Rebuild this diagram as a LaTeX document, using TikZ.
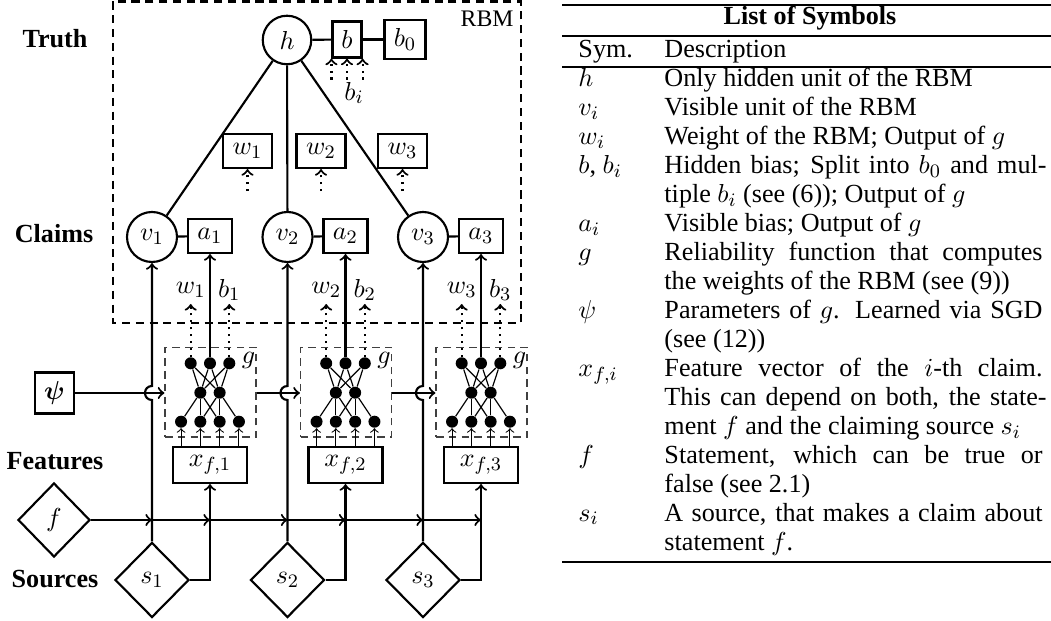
\documentclass[tikz,border=0pt]{standalone}
\usepackage{amsmath}
\usepackage{fontspec}
\setmainfont{Liberation Serif}
\usetikzlibrary{shapes.geometric,calc}
\newcommand\pu{0.4211pt}
\newcommand\jline[1]{\makebox[159.2pt][s]{#1}}
\newcommand\hyline[1]{\makebox[160.9pt][s]{#1}}
\begin{document}
\begin{tikzpicture}[x=\pu,y=-\pu, font=\fontsize{11}{13}\selectfont,
  every node/.style={inner sep=0pt},
  lw/.style={line width=0.9pt},
  circ/.style={circle,draw,lw},
  sq/.style={rectangle,draw,lw},
  dia/.style={diamond,draw,lw,aspect=1},
  conn/.style={lw},
  arr/.style={lw,->},
  dotarr/.style={lw,dotted,->},
  nnunit/.style={circle,fill,minimum size=12*\pu},
  nnedge/.style={line width=0.5pt},
  nnin/.style={line width=0.45pt,->},
  nnbox/.style={draw,line width=0.5pt,dash pattern=on 3.2pt off 2.2pt,black!75},
  rbmbox/.style={lw,dash pattern=on 3.4pt off 2.4pt},
  lab/.style={font=\fontsize{11}{13}\selectfont\bfseries},
  rowtxt/.style={anchor=base west},
]
\useasboundingbox (0,0) rectangle (1051,621);

% ---------- RBM frame ----------
\draw[rbmbox] (113,1.5) rectangle (521,323);
\node[anchor=base east,font=\fontsize{10}{12}\selectfont] (rbm) at (514,27) {RBM};

% ---------- row labels ----------
\node[lab,anchor=base] (truth) at (55,48) {Truth};
\node[lab,anchor=base] (claims) at (54,243) {Claims};
\node[lab,anchor=base] (features) at (55,470) {Features};
\node[lab,anchor=base] (sources) at (55,588) {Sources};

% ---------- hidden unit ----------
\node[circ,minimum size=48.5*\pu] (h) at (287,40) {$h$};
\node[sq,minimum width=29*\pu,minimum height=36*\pu] (b) at (347,39.5) {$b$};
\node[sq,minimum width=41*\pu,minimum height=39*\pu] (b0) at (405,39.5) {$b_0$};
\draw[conn] (h) -- (b);
\draw[conn] (b) -- (b0);
\foreach \a in {south west,south,south east}
  \draw[dotarr] ($(b.\a)+(0,21)$) -- (b.\a);
\node (bi) at (354,93) {$b_i$};

% ---------- visible units ----------
\foreach \i/\x in {1/152,2/287.5,3/423}{
  \node[circ,minimum size=50*\pu] (v\i) at (\x,237) {$v_\i$};
  \node[sq,minimum width=44*\pu,minimum height=34*\pu] (a\i) at (\x+58,236) {$a_\i$};
  \draw[conn] (h) -- (v\i);
  \draw[conn] (v\i) -- (a\i);
}
\foreach \i/\x in {1/247.5,2/321,3/402.5}{
  \node[sq,minimum width=49*\pu,minimum height=34*\pu] (w\i) at (\x,151) {$w_\i$};
  \draw[dotarr] ($(w\i.south)+(0,22)$) -- (w\i.south);
}

% ---------- psi ----------
\node[sq,minimum width=39*\pu,minimum height=41*\pu] (psi) at (54.5,393) {$\boldsymbol{\psi}$};

% ---------- reliability networks g ----------
\foreach \i/\c in {1/210,2/345.5,3/481}{
  \node[nnbox,minimum width=91*\pu,minimum height=89.5*\pu] (nn\i) at (\c+0.5,392.25) {};
  \node[sq,minimum width=74*\pu,minimum height=36*\pu] (x\i) at (\c,465) {$x_{f,\i}$};
  \node[nnunit] (t\i-1) at (\c-19.3,363.3) {};
  \node[nnunit] (t\i-2) at (\c,363.3) {};
  \node[nnunit] (t\i-3) at (\c+19.3,363.3) {};
  \node[nnunit] (m\i-1) at (\c-9.65,392.7) {};
  \node[nnunit] (m\i-2) at (\c+9.65,392.7) {};
  \node[nnunit] (u\i-1) at (\c-28.95,421.7) {};
  \node[nnunit] (u\i-2) at (\c-9.65,421.7) {};
  \node[nnunit] (u\i-3) at (\c+9.65,421.7) {};
  \node[nnunit] (u\i-4) at (\c+28.95,421.7) {};
  \foreach \j in {1,2,3}{
    \foreach \k in {1,2}{ \draw[nnedge] (t\i-\j) -- (m\i-\k); }
  }
  \foreach \j/\k in {1/1,2/1,2/2,3/1,3/2,4/2}{ \draw[nnedge] (u\i-\j) -- (m\i-\k); }
  \foreach \j in {1,2,3,4}{ \draw[nnin] (x\i.north -| u\i-\j) -- (u\i-\j.south); }
  \node[anchor=base] (g\i) at (\c+38.5,364) {$g$};
  % outputs of g
  \draw[arr] (t\i-2) -- (a\i.south);
  \coordinate (we\i) at (\c-19.3,304);
  \coordinate (be\i) at (\c+19.3,304);
  \draw[dotarr] (t\i-1) -- (we\i);
  \draw[dotarr] (t\i-3) -- (be\i);
  \node (wl\i) at (\c-19.3,290) {$w_\i$};
  \node (bl\i) at (\c+19.3,290) {$b_\i$};
}

% ---------- psi chain ----------
\draw[arr] (psi.east) -- (psi.east -| nn1.west);
\draw[arr] (nn1.east |- psi) -- (nn2.west |- psi);
\draw[arr] (nn2.east |- psi) -- (nn3.west |- psi);

% ---------- statement and sources ----------
\node[dia,minimum width=72*\pu,minimum height=74*\pu] (f) at (54,520) {$f$};
\foreach \i/\x in {1/152,2/287.5,3/423}{
  \node[dia,minimum width=74*\pu,minimum height=75*\pu] (s\i) at (\x,580) {$s_\i$};
  \coordinate (hb\i) at (\x,400);
  \coordinate (ht\i) at (\x,386);
  \draw[arr] (s\i.north) -- (hb\i) .. controls ($(hb\i)+(-9.33,0)$) and ($(ht\i)+(-9.33,0)$) .. (ht\i) -- (v\i.south);
  \draw[arr] (s\i.east) -| (x\i.south);
}
\draw[arr] (f.east) -- (v1 |- f);
\draw[arr] (v1 |- f) -- (x1 |- f);
\draw[arr] (x1 |- f) -- (v2 |- f);
\draw[arr] (v2 |- f) -- (x2 |- f);
\draw[arr] (x2 |- f) -- (v3 |- f);
\draw[arr] (v3 |- f) -- (x3 |- f);

% ---------- table ----------
\draw[line width=1.1pt] (562,5) -- (1051,5);
\node[anchor=base,font=\fontsize{11}{13}\selectfont\bfseries] (title) at (810,25) {List of Symbols};
\draw[line width=0.9pt] (562,36) -- (1051,36);
\node[rowtxt] (hsym) at (578,57.5) {Sym.};
\node[rowtxt] (hdesc) at (664,57.5) {Description};
\draw[line width=0.9pt] (562,67) -- (1051,67);

\node[rowtxt] (s01) at (578,87) {$h$};
\node[rowtxt] (d01) at (664,87) {Only hidden unit of the RBM};
\node[rowtxt] (s02) at (578,115.94) {$v_i$};
\node[rowtxt] (d02) at (664,115.94) {Visible unit of the RBM};
\node[rowtxt] (s03) at (578,144.88) {$w_i$};
\node[rowtxt] (d03) at (664,144.88) {Weight of the RBM; Output of $g$};
\node[rowtxt] (s04) at (578,173.82) {$b$, $b_i$};
\node[rowtxt] (d04) at (664,173.82) {\hyline{Hidden bias; Split into $b_0$ and mul-}};
\node[rowtxt] (d05) at (664,202.76) {tiple $b_i$ (see (6)); Output of $g$};
\node[rowtxt] (s06) at (578,231.7) {$a_i$};
\node[rowtxt] (d06) at (664,231.7) {Visible bias; Output of $g$};
\node[rowtxt] (s07) at (578,260.64) {$g$};
\node[rowtxt] (d07) at (664,260.64) {\jline{Reliability function that computes}};
\node[rowtxt] (d08) at (664,289.58) {the weights of the RBM (see (9))};
\node[rowtxt] (s09) at (578,318.52) {$\psi$};
\node[rowtxt] (d09) at (664,318.52) {\jline{Parameters of $g$. Learned via SGD}};
\node[rowtxt] (d10) at (664,347.46) {(see (12))};
\node[rowtxt] (s11) at (578,376.4) {$x_{f,i}$};
\node[rowtxt] (d11) at (664,376.4) {\jline{Feature vector of the $i$-th claim.}};
\node[rowtxt] (d12) at (664,405.34) {\hyline{This can depend on both, the state-}};
\node[rowtxt] (d13) at (664,434.28) {ment $f$ and the claiming source $s_i$};
\node[rowtxt] (s14) at (578,463.22) {$f$};
\node[rowtxt] (d14) at (664,463.22) {\jline{Statement, which can be true or}};
\node[rowtxt] (d15) at (664,492.16) {false (see 2.1)};
\node[rowtxt] (s16) at (578,521.1) {$s_i$};
\node[rowtxt] (d16) at (664,521.1) {\jline{A source, that makes a claim about}};
\node[rowtxt] (d17) at (664,550.04) {statement $f$.};
\draw[line width=1.1pt] (562,562) -- (1051,562);
\end{tikzpicture}
\end{document}
